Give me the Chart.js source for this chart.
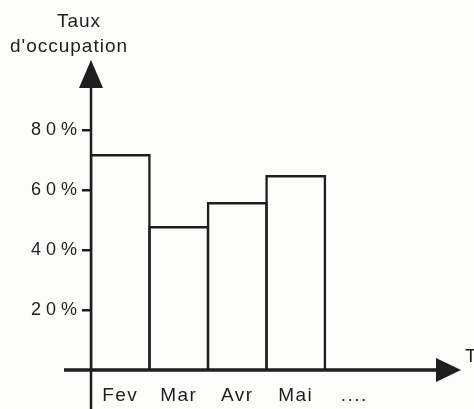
<!DOCTYPE html>
<html>
<head>
<meta charset="utf-8">
<script src="https://cdn.jsdelivr.net/npm/chart.js@4/dist/chart.umd.min.js"></script>
<style>
  html, body { margin: 0; padding: 0; background: #fcfcfb; }
  canvas { display: block; }
</style>
</head>
<body>
<canvas id="c" width="474" height="409"></canvas>
<script>
// Monthly occupancy rate, in percent
const months = ['Fev', 'Mar', 'Avr', 'Mai', '....', ''];
const occupation = [72, 48, 56, 65];
const yTickValues = [20, 40, 60, 80];
const yTitle = ['Taux', "d'occupation"];
const xTitle = 'T';

const INK = '#1e1e1e';
const FONT = "'Liberation Sans', Arial, Helvetica, sans-serif";
const LABEL_SPACING = { x: '1.5px', y: '5px' };

// Wraps a scale's label drawing so its text gets its own letter spacing
function spaceLabels(scale, spacing) {
  if (scale.__spaced) return;
  const draw = scale.drawLabels.bind(scale);
  scale.drawLabels = (area) => {
    const ctx = scale.ctx;
    ctx.save();
    ctx.letterSpacing = spacing;
    draw(area);
    ctx.restore();
  };
  scale.__spaced = true;
}

// Draws both axes as arrows plus their titles
const arrowAxes = {
  id: 'arrowAxes',
  beforeDraw(chart) {
    spaceLabels(chart.scales.x, LABEL_SPACING.x);
    spaceLabels(chart.scales.y, LABEL_SPACING.y);
  },
  afterDraw(chart) {
    const { ctx, chartArea, scales } = chart;
    const x0 = chartArea.left;
    const y0 = scales.y.getPixelForValue(0);
    ctx.save();
    ctx.strokeStyle = INK;
    ctx.fillStyle = INK;

    // vertical axis, running past the horizontal one
    ctx.lineWidth = 2.5;
    ctx.beginPath();
    ctx.moveTo(x0, chartArea.top + 14);
    ctx.lineTo(x0, chart.height);
    ctx.stroke();
    ctx.beginPath();
    ctx.moveTo(x0, chartArea.top - 10);
    ctx.lineTo(x0 + 12, chartArea.top + 18);
    ctx.lineTo(x0 - 12, chartArea.top + 18);
    ctx.closePath();
    ctx.fill();

    // horizontal axis
    ctx.lineWidth = 3.5;
    ctx.beginPath();
    ctx.moveTo(x0 - 27, y0);
    ctx.lineTo(chartArea.right, y0);
    ctx.stroke();
    ctx.beginPath();
    ctx.moveTo(chartArea.right + 19, y0);
    ctx.lineTo(chartArea.right - 6, y0 - 12);
    ctx.lineTo(chartArea.right - 6, y0 + 12);
    ctx.closePath();
    ctx.fill();

    // axis titles
    ctx.font = '19px ' + FONT;
    ctx.letterSpacing = '1px';
    ctx.textAlign = 'center';
    ctx.textBaseline = 'middle';
    ctx.fillText(yTitle[0], x0 - 12, 22);
    ctx.fillText(yTitle[1], x0 - 22, 47);
    ctx.textAlign = 'left';
    ctx.fillText(xTitle, chartArea.right + 23, y0 - 13);
    ctx.restore();
  }
};

new Chart(document.getElementById('c'), {
  type: 'bar',
  data: {
    labels: months,
    datasets: [{
      data: occupation,
      backgroundColor: 'rgba(0,0,0,0)',
      borderColor: INK,
      borderWidth: 2.5,
      barPercentage: 1.043,
      categoryPercentage: 1
    }]
  },
  options: {
    responsive: false,
    animation: false,
    layout: { padding: { top: 70, right: 32, left: 0, bottom: 0 } },
    plugins: {
      legend: { display: false },
      tooltip: { enabled: false }
    },
    scales: {
      x: {
        grid: { display: false },
        border: { display: false },
        ticks: {
          color: INK,
          font: { family: FONT, size: 19 },
          padding: 6,
          maxRotation: 0,
          autoSkip: false
        },
        afterFit(scale) { scale.height = 39; }
      },
      y: {
        min: 0,
        max: 100,
        afterBuildTicks(scale) {
          scale.ticks = yTickValues.map(v => ({ value: v }));
        },
        ticks: {
          color: INK,
          font: { family: FONT, size: 18 },
          padding: 0,
          callback: v => v + '%'
        },
        grid: {
          drawOnChartArea: false,
          drawTicks: true,
          tickLength: 9,
          lineWidth: 2.5,
          color: INK
        },
        border: { display: false },
        afterFit(scale) { scale.width = 91; }
      }
    }
  },
  plugins: [arrowAxes]
});
</script>
</body>
</html>
